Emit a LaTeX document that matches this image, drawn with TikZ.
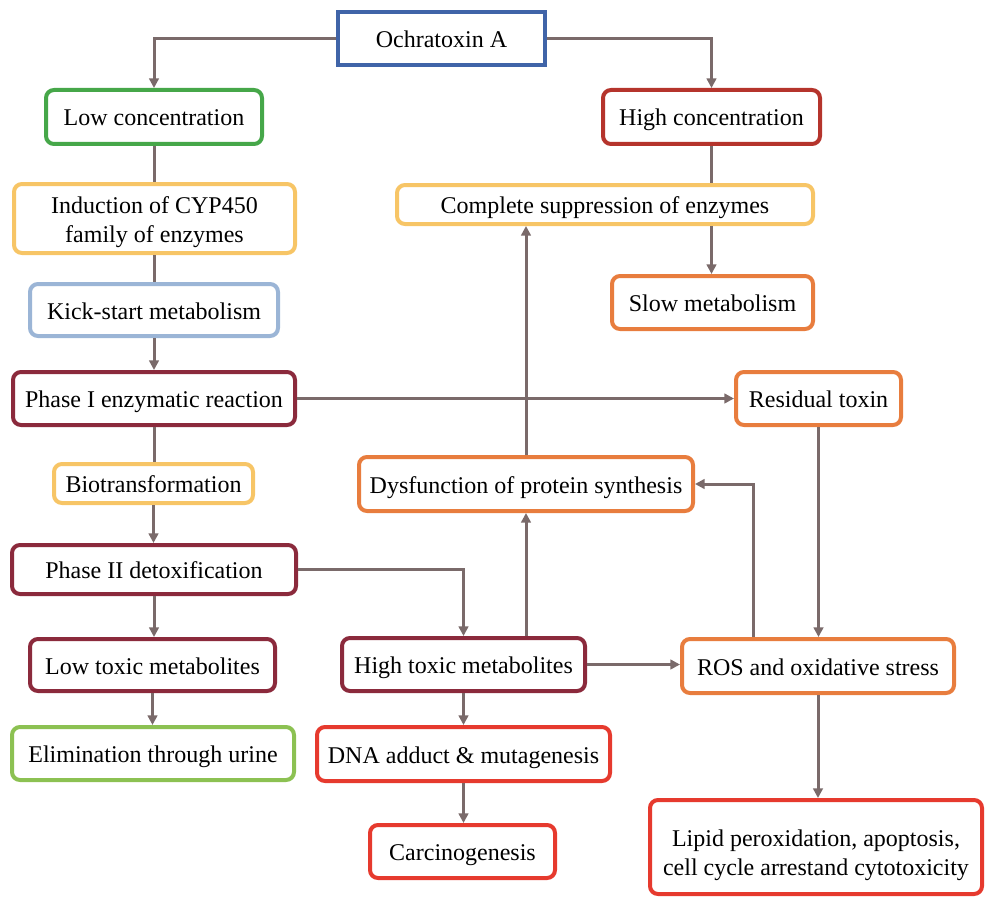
\documentclass[tikz,border=0pt]{standalone}
\usepackage{fontspec}
\setmainfont{Liberation Serif}
\usetikzlibrary{arrows.meta}
\definecolor{cblue}{HTML}{4064A8}
\definecolor{cgreen}{HTML}{46A749}
\definecolor{cdred}{HTML}{B5342C}
\definecolor{cyellow}{HTML}{F7C566}
\definecolor{clblue}{HTML}{9BB5D6}
\definecolor{cmaroon}{HTML}{8B2A3C}
\definecolor{corange}{HTML}{E87D3E}
\definecolor{clgreen}{HTML}{8CC152}
\definecolor{cred}{HTML}{E63A2E}
\definecolor{cline}{HTML}{7A6A6A}
\begin{document}
\begin{tikzpicture}[x=0.5pt,y=-0.5pt,
  box/.style={draw=#1, line width=2pt, rounded corners=4pt, fill=white,
    inner sep=0pt, align=center, font=\fontsize{12pt}{14.5pt}\selectfont},
  sl/.style={text height=9pt, text depth=0pt},
  conn/.style={draw=cline, line width=1.5pt},
  arr/.style={conn, -{Triangle[length=4.8pt,width=4.8pt]}}]
\useasboundingbox (0,0) rectangle (985,899);
\node[box=cblue, sl, rounded corners=0pt, minimum width=103.5pt, minimum height=26.5pt] (ochra) at (441.5,38.5) {Ochratoxin A};
\node[box=cgreen, sl, minimum width=108pt, minimum height=27pt] (lowc) at (154,117) {Low concentration};
\node[box=cdred, sl, minimum width=108.5pt, minimum height=27pt] (highc) at (711.5,117) {High concentration};
\node[box=cyellow, minimum width=140.5pt, minimum height=34.5pt] (induc) at (154.5,218.5) {\rule{0pt}{12.5pt}Induction of CYP450\\family of enzymes};
\node[box=cyellow, sl, minimum width=208pt, minimum height=19.5pt] (supp) at (605,204.5) {Complete suppression of enzymes};
\node[box=clblue, sl, minimum width=124pt, minimum height=26pt] (kick) at (154,310) {Kick-start metabolism};
\node[box=corange, sl, minimum width=100.5pt, minimum height=26.5pt] (slow) at (712.5,302.5) {Slow metabolism};
\node[box=cmaroon, sl, minimum width=141pt, minimum height=26.5pt] (phase1) at (154,398.5) {Phase I enzymatic reaction};
\node[box=corange, sl, minimum width=82.5pt, minimum height=26.5pt] (resid) at (818.5,398.5) {Residual toxin};
\node[box=cyellow, sl, minimum width=99.5pt, minimum height=19.5pt] (bio) at (153.5,483.5) {Biotransformation};
\node[box=corange, sl, minimum width=167pt, minimum height=27pt] (dysf) at (526,484) {Dysfunction of protein synthesis};
\node[box=cmaroon, sl, minimum width=142pt, minimum height=24.5pt] (phase2) at (154,569.5) {Phase II detoxification};
\node[box=cmaroon, sl, minimum width=122.5pt, minimum height=26pt] (lowtox) at (152.5,665) {Low toxic metabolites};
\node[box=cmaroon, sl, minimum width=121.5pt, minimum height=26.5pt] (hightox) at (463.5,664.5) {High toxic metabolites};
\node[box=corange, sl, minimum width=136pt, minimum height=27pt] (ros) at (818,666) {ROS and oxidative stress};
\node[box=clgreen, sl, minimum width=141pt, minimum height=26.5pt] (elim) at (153,753.5) {Elimination through urine};
\node[box=cred, sl, minimum width=146.5pt, minimum height=27pt] (dna) at (463.5,754) {DNA adduct \& mutagenesis};
\node[box=cred, sl, minimum width=92.5pt, minimum height=26.5pt] (carc) at (462.5,851.5) {Carcinogenesis};
\node[box=cred, minimum width=166pt, minimum height=47pt] (lipid) at (816,847) {\rule{0pt}{16.5pt}Lipid peroxidation, apoptosis,\\cell cycle arrestand cytotoxicity};

\draw[arr] (ochra.west) -| (lowc.north);
\draw[arr] (ochra.east) -| (highc.north);
\draw[conn] (lowc.south) -- (lowc.south |- induc.north);
\draw[conn] (induc.south) -- (induc.south |- kick.north);
\draw[arr] (kick.south) -- (kick.south |- phase1.north);
\draw[conn] (phase1.south) -- (phase1.south |- bio.north);
\draw[arr] (bio.south) -- (bio.south |- phase2.north);
\draw[arr] (phase2.south) -- (phase2.south |- lowtox.north);
\draw[arr] (lowtox.south) -- (lowtox.south |- elim.north);
\draw[conn] (highc.south) -- (highc.south |- supp.north);
\draw[arr] (highc.south |- supp.south) -- (highc.south |- slow.north);
\draw[arr] (dysf.north) -- (dysf.north |- supp.south);
\draw[arr] (dysf.south |- hightox.north) -- (dysf.south);
\draw[arr] (phase1.east) -- (phase1.east -| resid.west);
\draw[arr] (resid.south) -- (resid.south |- ros.north);
\draw[arr] ([xshift=-32.5pt]ros.north) |- (dysf.east);
\draw[arr] (phase2.east) -| (hightox.north);
\draw[arr] (hightox.east) -- (hightox.east -| ros.west);
\draw[arr] (hightox.south) -- (hightox.south |- dna.north);
\draw[arr] (dna.south) -- (dna.south |- carc.north);
\draw[arr] (ros.south) -- (ros.south |- lipid.north);
\end{tikzpicture}
\end{document}
